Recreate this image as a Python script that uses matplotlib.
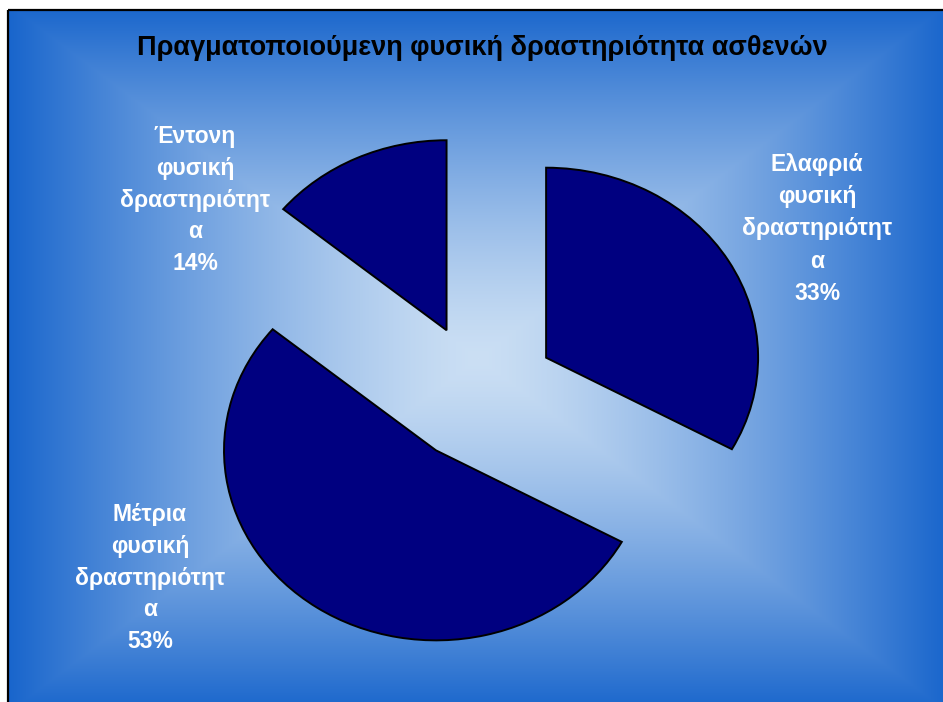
import numpy as np
import matplotlib.pyplot as plt
from matplotlib.patches import Rectangle

plt.rcParams['font.family'] = ['Liberation Sans', 'DejaVu Sans']

title = "Πραγματοποιούμενη φυσική δραστηριότητα ασθενών"
categories = ["Ελαφριά φυσική δραστηριότητα",
              "Μέτρια φυσική δραστηριότητα",
              "Έντονη φυσική δραστηριότητα"]
values = [33, 53, 14]
# wrapped label text as it breaks inside the chart
label_lines = [["Ελαφριά", "φυσική", "δραστηριότητ", "α"],
               ["Μέτρια", "φυσική", "δραστηριότητ", "α"],
               ["Έντονη", "φυσική", "δραστηριότητ", "α"]]
label_pos = [(817, 229), (150, 578), (195, 200)]

W, H = 943, 702
fig = plt.figure(figsize=(W / 100, H / 100), dpi=100)
fig.patch.set_facecolor('white')

# background: rectangular gradient, pale in the middle, blue at the border
bg = fig.add_axes([0, 0, 1, 1])
bg.set_xlim(0, W)
bg.set_ylim(H, 0)
bg.axis('off')

x0, y0, x1, y1 = 8, 10, 955, 712
cx, cy = 478, 358
xx, yy = np.meshgrid(np.arange(x0, x1), np.arange(y0, y1))
t = np.maximum(np.abs(xx - cx) / (cx - x0), np.abs(yy - cy) / (y1 - cy))
t = np.clip(t, 0, 1) ** 1.35
inner = np.array([0xcb, 0xdf, 0xf4]) / 255
outer = np.array([0x18, 0x65, 0xcc]) / 255
img = inner[None, None, :] * (1 - t[..., None]) + outer[None, None, :] * t[..., None]
bg.imshow(img, extent=(x0, x1, y1, y0), interpolation='bilinear', zorder=0)
bg.add_patch(Rectangle((x0, y0), 2000, 2000, fill=False, edgecolor='black',
                       lw=1.6, zorder=1))
bg.set_xlim(0, W)
bg.set_ylim(H, 0)

bg.text(482, 48, title, ha='center', va='center', fontsize=19.5,
        fontweight='bold', color='black')

for lines, v, (lx, ly) in zip(label_lines, values, label_pos):
    bg.text(lx, ly, "\n".join(lines + [f"{v}%"]), ha='center', va='center',
            fontsize=16.5, fontweight='bold', color='white', linespacing=1.5)

# pie drawn stretched slightly wider than tall
ax = fig.add_axes([0, 0, 1, 1])
ax.patch.set_alpha(0)
wedges, _ = ax.pie(values, startangle=90, counterclock=False,
                   explode=[0.365] * len(values), radius=1,
                   wedgeprops=dict(facecolor='#000080', edgecolor='black',
                                   linewidth=1.4))
ax.set_aspect('auto')
ax.set_xlim(-479.5 / 212, (W - 479.5) / 212)
ax.set_ylim(-(H - 393) / 190, 393 / 190)
ax.axis('off')

fig.savefig('out.png', dpi=100)
